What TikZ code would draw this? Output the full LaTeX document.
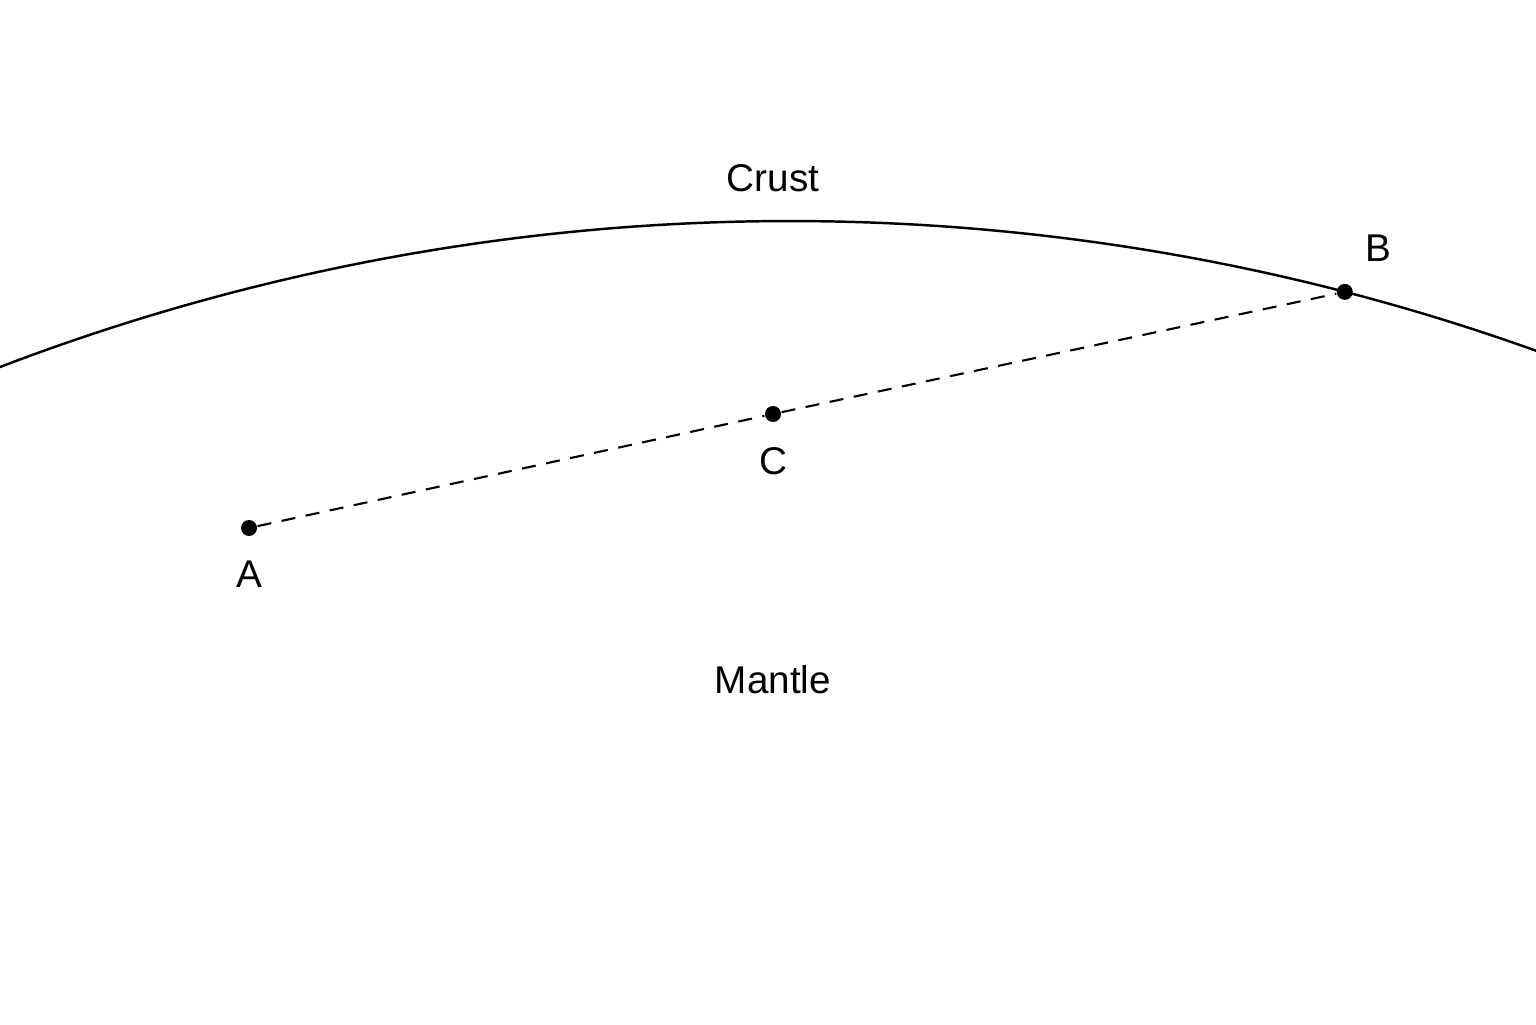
\documentclass[tikz,border=0pt]{standalone}
\usepackage{fontspec}
\setmainfont{Liberation Sans}
\usetikzlibrary{positioning,calc}
\begin{document}
\begin{tikzpicture}[dot/.style={circle, fill=black, inner sep=0pt, minimum size=0.16cm},
  lbl/.style={font=\fontsize{11}{13}\selectfont},
  path/.style={dashed, line width=0.6pt, dash pattern=on 4pt off 3pt}]
  \useasboundingbox (0,0) rectangle (15.36,10.24);
  \begin{scope}
    \clip (0,0) rectangle (15.36,10.24);
    \draw[line width=0.7pt] (7.9,-14.07) ++(112:22.1) arc (112:69:22.1);
  \end{scope}
  \node[dot] (b) at ($(7.9,-14.07)+(75.46:22.1)$) {};
  \node[dot] (a) at (2.49,4.96) {};
  \node[dot] (c) at (7.73,6.10) {};
  \draw[path] (a) -- (c) -- (b);
  \node[lbl, below=0.12cm of a] (la) {A};
  \node[lbl, below=0.12cm of c] (lc) {C};
  \node[lbl, above right=0.12cm and 0.02cm of b] (lb) {B};
  \node[lbl] (crust) at (7.73,8.46) {Crust};
  \node[lbl] (mantle) at (7.73,3.44) {Mantle};
\end{tikzpicture}
\end{document}
